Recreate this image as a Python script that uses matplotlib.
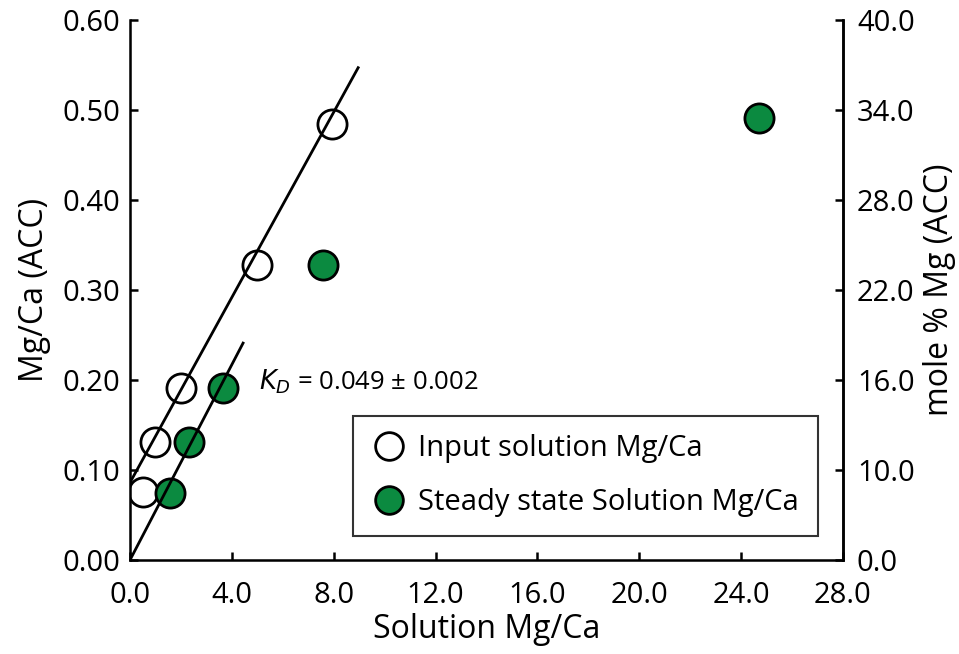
import numpy as np
import matplotlib
matplotlib.use("Agg")
import matplotlib.pyplot as plt

plt.rcParams['font.family'] = ['Open Sans', 'DejaVu Sans']

# input solution Mg/Ca vs ACC Mg/Ca
input_x = [0.5, 1.0, 2.0, 5.0, 7.95]
input_y = [0.076, 0.131, 0.191, 0.328, 0.485]

# steady state solution Mg/Ca vs ACC Mg/Ca
steady_x = [1.57, 2.32, 3.65, 7.58, 24.7]
steady_y = [0.075, 0.131, 0.191, 0.328, 0.491]

# fit lines (end points)
fit1_x = [0.0, 8.96]
fit1_y = [0.086, 0.547]
fit2_x = [0.0, 4.44]
fit2_y = [0.0, 0.241]

xticks = [0, 4, 8, 12, 16, 20, 24, 28]
yticks = [0.0, 0.1, 0.2, 0.3, 0.4, 0.5, 0.6]
right_labels = ['0.0', '10.0', '16.0', '22.0', '28.0', '34.0', '40.0']

green = '#0b8a40'
fs = 21

fig = plt.figure(figsize=(9.59, 6.54), dpi=100)
ax = fig.add_axes([130 / 959, 94 / 654, 713 / 959, 540 / 654])

ax.plot(fit1_x, fit1_y, color='black', lw=2, zorder=3)
ax.plot(fit2_x, fit2_y, color='black', lw=2, zorder=3)

ax.plot(input_x, input_y, 'o', ms=21, mfc='white', mec='black', mew=2,
        label='Input solution Mg/Ca', zorder=2)
ax.plot(steady_x, steady_y, 'o', ms=21, mfc=green, mec='black', mew=2,
        label='Steady state Solution Mg/Ca', zorder=2)

ax.set_xlim(0, 28)
ax.set_ylim(0, 0.6)
ax.set_xticks(xticks)
ax.set_xticklabels(['%.1f' % v for v in xticks], fontsize=fs)
ax.set_yticks(yticks)
ax.set_yticklabels(['%.2f' % v for v in yticks], fontsize=fs)
ax.set_xlabel('Solution Mg/Ca', fontsize=fs + 2, labelpad=2)
ax.set_ylabel('Mg/Ca (ACC)', fontsize=fs + 2, labelpad=8)
ax.tick_params(direction='in', length=6, width=1.8, pad=7)
ax.tick_params(axis='x', pad=15)
ax.spines['top'].set_visible(False)
for s in ['left', 'bottom', 'right']:
    ax.spines[s].set_linewidth(1.8)

ax2 = ax.twinx()
ax2.set_ylim(0, 0.6)
ax2.set_yticks(yticks)
ax2.set_yticklabels(right_labels, fontsize=fs)
ax2.set_ylabel('mole % Mg (ACC)', fontsize=fs + 2, labelpad=6)
ax2.tick_params(direction='in', length=6, width=1.8, pad=10)
ax2.spines['top'].set_visible(False)
ax2.spines['right'].set_linewidth(1.8)

ax.text(5.05, 0.198, r'$K_D$ = 0.049 ± 0.002', fontsize=18.5, va='center')

leg = ax.legend(loc='lower right', bbox_to_anchor=(0.965, 0.044),
                borderaxespad=0, fontsize=fs, frameon=True, fancybox=False,
                edgecolor='black', handlelength=1.2, handletextpad=0.4,
                labelspacing=0.85, borderpad=0.65, markerscale=0.95)
leg.get_frame().set_linewidth(1.5)

fig.savefig('out.png', dpi=100)
